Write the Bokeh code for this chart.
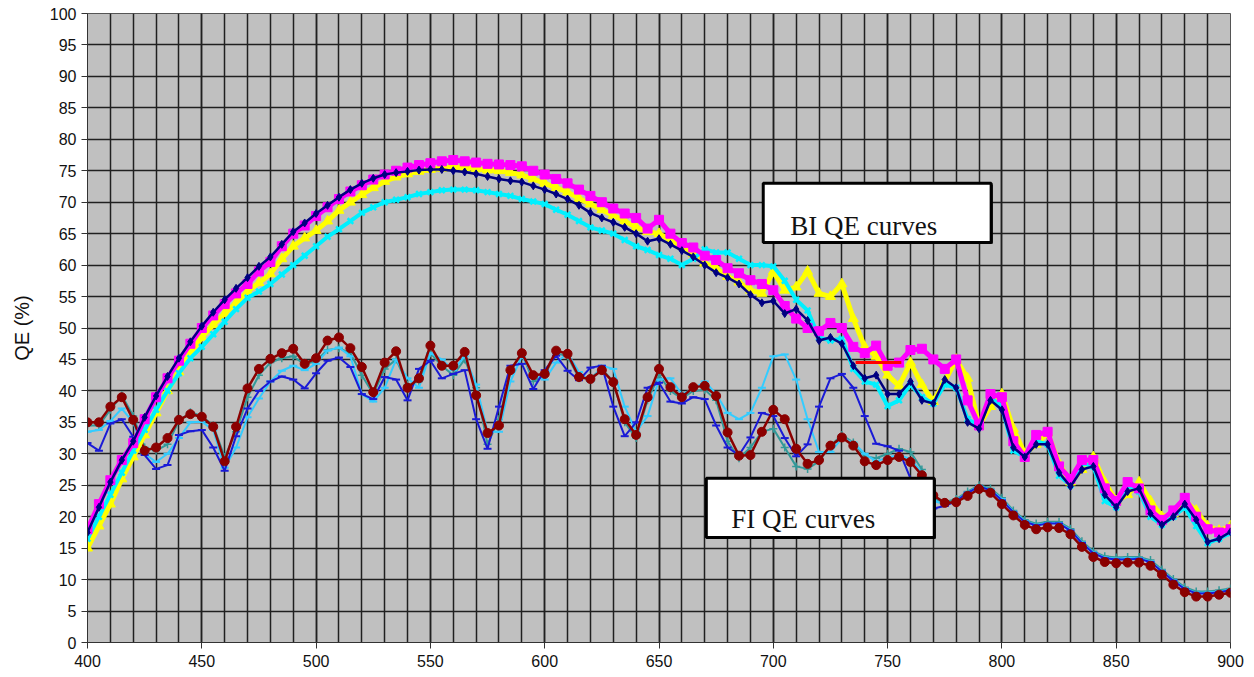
from bokeh.plotting import figure
from bokeh.models import ColumnDataSource, SingleIntervalTicker, BoxAnnotation, Label
from bokeh.embed import file_html
from bokeh.resources import INLINE

wavelength = list(range(400, 901, 5))

bi_magenta = [18, 22, 25.8, 29, 31.7, 35.5, 39, 42, 44.8, 47.5,
              50, 52, 53.8, 55.5, 57, 59, 60.5, 63, 65, 66.3,
              67.8, 69.2, 70.5, 71.7, 72.7, 73.6, 74.4, 75, 75.5, 75.9,
              76.2, 76.5, 76.7, 76.5, 76.3, 76.1, 76, 75.9, 75.7, 75,
              74.4, 73.7, 73, 72, 71, 70, 69, 68.2, 67.5, 65.8,
              67.2, 65, 63.5, 62.8, 61.5, 60.8, 59.5, 58.7, 57.6, 57,
              56, 53.5, 51.5, 50, 49.5, 50.8, 50, 47, 46, 47.2,
              44, 44.5, 46.5, 46.7, 45, 43.5, 45, 38.5, 34.5, 39.5,
              39, 32, 29.5, 33, 33.5, 28, 26, 29, 29, 24.5,
              22.5, 25.5, 24.5, 21, 19.5, 21, 23, 20, 18, 17.5,
              18]

bi_yellow = [15, 18.5, 22, 26, 29.5, 33, 36.5, 40, 43, 46,
             48.5, 50.5, 52.3, 54, 55.8, 57.2, 58.6, 61, 63, 64.3,
             65.5, 67, 68.7, 70, 71.2, 72.3, 73.3, 74, 74.5, 74.9,
             75.2, 75.4, 75.6, 75.5, 75.3, 75.1, 75, 74.7, 74.3, 73.7,
             73, 72.3, 71.6, 70.6, 69.7, 68.8, 67.9, 67, 66, 65.3,
             65, 64, 63, 61.8, 60.3, 59.5, 58.2, 57.3, 56, 55.5,
             59, 56, 56.5, 59, 55.5, 55, 57, 51.5, 47, 45.5,
             42.5, 40.8, 44.5, 41, 38.3, 41.5, 45, 42, 34.5, 37.5,
             39.5, 34, 30, 31.5, 33.3, 28.5, 25.5, 27.5, 29.5, 25.5,
             22.5, 23.5, 25.5, 22.5, 20, 20.5, 22.5, 21, 18.5, 17.8,
             18.5]

bi_navy = [17.5, 21.5, 25.5, 29, 32, 35.8, 39.2, 42.3, 45.2, 47.8,
           50.3, 52.5, 54.5, 56.3, 58, 59.8, 61.3, 63.3, 65.3, 66.7,
           68.2, 69.5, 70.8, 72, 73, 73.8, 74.4, 74.7, 74.9, 75.1,
           75.2, 75.2, 75, 74.8, 74.5, 74.1, 73.7, 73.4, 73.2, 72.6,
           72, 71.3, 70.5, 69.5, 68.3, 67.5, 66.8, 66, 65, 63.8,
           64.2, 63.3, 62.3, 61.3, 60, 58.8, 58, 57, 55.3, 54,
           54.3, 52.3, 53, 51.2, 48, 48.5, 47.5, 44, 42, 42.5,
           39.5, 39.5, 41.5, 38.5, 38, 41.8, 40.5, 35, 34, 38.5,
           37, 31, 29.5, 31.5, 31.5, 27, 24.8, 27.5, 28, 23.5,
           21.5, 24, 24.5, 20.5, 18.7, 20, 22, 19.5, 16, 16.5,
           17.6]

bi_cyan = [16.5, 20, 23.5, 27, 30.5, 33.8, 37, 40, 42.8, 45.2,
           47, 49, 51, 53, 54.8, 55.8, 57, 58.5, 60, 61.5,
           63, 64.5, 65.7, 67, 68.3, 69.2, 70, 70.4, 70.8, 71.3,
           71.6, 71.9, 72, 72, 71.9, 71.6, 71.3, 71, 70.5, 70.1,
           69.7, 68.8, 68, 67, 66, 65.5, 65, 64, 63, 62.4,
           61.6, 61, 60, 61, 62.5, 62, 62, 61, 60, 60,
           59.8, 57.5, 54.5, 52.8, 48.5, 48, 48.3, 43.5, 41.5, 41,
           37.6, 38.5, 41, 39, 38, 41, 40.5, 35.5, 34.5, 39,
           37.5, 30.5, 29.5, 32, 31.5, 26.5, 25, 28.5, 28, 22.5,
           21.5, 25, 24, 20, 18.7, 20, 21.5, 18.5, 15.8, 16.5,
           17.4]

fi_maroon = [35, 35, 37.5, 39, 35.4, 30.5, 31, 32.5, 35.4, 36.3,
             35.9, 34.3, 28.8, 34.3, 40.4, 43.5, 45.1, 46, 46.7, 44.3,
             45.2, 48, 48.5, 46.8, 43.8, 39.8, 44.5, 46.3, 40.5, 42,
             47.2, 44, 44, 46.2, 39.3, 33.3, 34.5, 43.3, 46, 42.5,
             42.7, 46.4, 45.9, 42.2, 41.9, 43.3, 41.4, 35.5, 33, 39,
             43.5, 40.6, 39, 40.6, 40.8, 39.2, 33.4, 29.7, 29.8, 33.5,
             37, 35.5, 30.8, 28.4, 29, 31.3, 32.6, 31.3, 28.8, 28.2,
             29, 29.5, 28.7, 26.6, 23.4, 22.2, 22.3, 23.3, 24.4, 23.8,
             22, 20.2, 18.7, 18, 18.3, 18.2, 17.2, 15.2, 13.6, 12.8,
             12.6, 12.7, 12.7, 12.2, 10.8, 9.2, 8, 7.3, 7.3, 7.6,
             7.9]

fi_blue = [31.7, 30.5, 34.8, 35.5, 32.7, 29.8, 27.6, 28.2, 33, 33.6,
           33.8, 31, 27.3, 32.8, 37.2, 40, 41.5, 42.3, 41.8, 40.4,
           42.8, 44.8, 45.3, 43.8, 39.5, 38.7, 42.2, 41.8, 38.5, 43.5,
           44.8, 42, 42.7, 43.3, 35.5, 30.8, 37.5, 44, 44.3, 40.3,
           43.3, 45.6, 43.2, 41.7, 43.7, 44, 37.5, 32.8, 35, 40.5,
           41.3, 38.3, 38, 39, 38.7, 34.5, 31, 29.8, 32.6, 36.5,
           36, 32.5, 29.6, 31.5, 37.5, 42, 42.7, 40.5, 36, 31.6,
           31.2, 30.5, 26.1, 21.8, 21.3, 21.7, 22.5, 23.8, 24.8, 24.2,
           22.6, 20.7, 19.2, 18.6, 18.9, 18.9, 17.8, 15.8, 14.2, 13.4,
           13.2, 13.2, 13.3, 12.8, 11.3, 9.8, 8.5, 7.8, 7.8, 8,
           8.3]

fi_lightblue = [33.5, 33.8, 35.2, 37.2, 35, 30, 28.7, 30, 32.5, 35,
                35.1, 33.8, 27.8, 31, 35.8, 38.8, 41.5, 43.2, 44, 43.3,
                44.3, 46.4, 46.9, 45.5, 39.5, 38.3, 40.5, 45, 42, 40.5,
                46, 45, 43.3, 45.5, 41, 33.5, 33.5, 41.5, 45.5, 42.5,
                41.8, 44.5, 46, 43, 41.5, 44, 43.5, 37.5, 33.5, 36,
                41.8, 42, 39.5, 40.3, 41.5, 39.5, 36.5, 35.5, 36.5, 40.5,
                45.5, 45.8, 41.8, 35.5, 30.3, 30.3, 32.4, 31.8, 30, 28.8,
                29.4, 29.8, 29.2, 27, 22.5, 22, 22.6, 23.8, 24.9, 24.3,
                22.8, 20.8, 19.3, 18.7, 19, 19, 17.9, 15.9, 14.3, 13.5,
                13.3, 13.4, 13.4, 12.9, 11.4, 9.9, 8.6, 7.9, 7.9, 8.1,
                8.4]

fi_teal = [34.5, 34.5, 37, 39.3, 36, 31, 30.5, 31.5, 35.2, 36.6,
           36, 34.5, 29.5, 33.5, 39, 42.5, 44.5, 45.2, 45.5, 44.2,
           44.8, 46.5, 46.8, 46, 42.5, 39.5, 43.5, 45, 41, 41.5,
           46, 44, 42.5, 45, 40.5, 31.5, 35.5, 43, 46, 41.5,
           42.5, 46, 45.5, 42, 42, 43.5, 41.5, 35, 32.5, 38.5,
           42.5, 40, 38.8, 40, 40.2, 38.5, 32, 29.3, 31, 33.5,
           34, 31, 28, 27.6, 28.8, 31.3, 33, 31.8, 29.6, 29.3,
           30, 30.8, 30.3, 27.5, 22.8, 22.3, 22.8, 24, 25, 24.5,
           23, 21, 19.5, 18.9, 19.2, 19.2, 18.1, 16.1, 14.5, 13.7,
           13.5, 13.6, 13.6, 13.1, 11.6, 10.1, 8.8, 8.1, 8.1, 8.3,
           8.6]

red_wl = [736, 756]
red_qe = [44.5, 44.5]

y_ticks_step = 5
x_ticks_step = 50

src = ColumnDataSource(dict(wl=wavelength, magenta=bi_magenta, yellow=bi_yellow,
                            navy=bi_navy, cyan=bi_cyan, maroon=fi_maroon,
                            blue=fi_blue, lblue=fi_lightblue, teal=fi_teal))

p = figure(width=1254, height=677, x_range=(400, 900), y_range=(0, 100),
           output_backend="svg", toolbar_location=None,
           min_border_left=87, min_border_right=24, min_border_top=13,
           min_border_bottom=35, background_fill_color="#c0c0c0",
           border_fill_color="white", outline_line_color="#555555")

# axes / grid
p.xaxis.ticker = SingleIntervalTicker(interval=x_ticks_step, num_minor_ticks=5)
p.yaxis.ticker = SingleIntervalTicker(interval=y_ticks_step, num_minor_ticks=0)
p.xaxis.minor_tick_line_color = None
p.yaxis.minor_tick_line_color = None
for ax in (p.xaxis[0], p.yaxis[0]):
    ax.axis_line_color = "#333333"
    ax.major_tick_line_color = "#333333"
    ax.major_tick_out = 6
    ax.major_tick_in = 0
    ax.major_label_text_font = "Liberation Sans"
    ax.major_label_text_font_size = "16px"
    ax.major_label_text_color = "#111111"
p.xaxis.major_label_standoff = 6
p.yaxis.major_label_standoff = 5
p.yaxis.axis_label = "QE (%)"
p.yaxis.axis_label_text_font = "Liberation Sans"
p.yaxis.axis_label_text_font_size = "20px"
p.yaxis.axis_label_text_font_style = "normal"
p.yaxis.axis_label_text_color = "#111111"
p.yaxis.axis_label_standoff = 14

p.xgrid.grid_line_color = "#202020"
p.xgrid.grid_line_width = 1.5
p.xgrid.minor_grid_line_color = "#202020"
p.xgrid.minor_grid_line_width = 1.5
p.ygrid.grid_line_color = "#202020"
p.ygrid.grid_line_width = 1.5

# FI curves
p.line("wl", "teal", source=src, color="#339999", line_width=2)
p.scatter("wl", "teal", source=src, marker="cross", size=8, line_color="#339999", line_width=1.5)
p.line("wl", "lblue", source=src, color="#33ccff", line_width=2)
p.scatter("wl", "lblue", source=src, marker="dash", size=8, line_color="#33ccff", line_width=2)
p.line("wl", "blue", source=src, color="#1a1ad6", line_width=2)
p.scatter("wl", "blue", source=src, marker="dash", size=8, line_color="#1a1ad6", line_width=2)
p.line("wl", "maroon", source=src, color="#8b0000", line_width=2.5)
p.scatter("wl", "maroon", source=src, marker="circle", size=9, color="#8b0000")

# BI curves
p.line("wl", "yellow", source=src, color="#ffff00", line_width=5)
p.scatter("wl", "yellow", source=src, marker="triangle", size=10, color="#ffff00")
p.line("wl", "cyan", source=src, color="#00f0ff", line_width=4)
p.scatter("wl", "cyan", source=src, marker="x", size=8, line_color="#00f0ff", line_width=2.5)
p.line("wl", "magenta", source=src, color="#ff00ff", line_width=5)
p.scatter("wl", "magenta", source=src, marker="square", size=9, color="#ff00ff")
p.line("wl", "navy", source=src, color="#000080", line_width=2.5)
p.scatter("wl", "navy", source=src, marker="diamond", size=8, color="#000080")

p.line(red_wl, red_qe, color="#ff0000", line_width=3)

# text boxes (with a slight dark drop-edge at the bottom/right)
p.add_layout(BoxAnnotation(left=696.2, right=796.0, bottom=63.4, top=72.8,
                           fill_color="black", fill_alpha=1.0, line_alpha=0.0))
p.add_layout(BoxAnnotation(left=695.6, right=795.3, bottom=63.6, top=73.0,
                           fill_color="white", fill_alpha=1.0,
                           line_color="black", line_width=3, line_alpha=1.0))
p.add_layout(Label(x=707.4, y=66.2, text="BI QE curves", text_font="Liberation Serif",
                   text_font_size="27px", text_color="#111111", text_baseline="alphabetic"))
p.add_layout(BoxAnnotation(left=671.3, right=771.1, bottom=16.5, top=25.9,
                           fill_color="black", fill_alpha=1.0, line_alpha=0.0))
p.add_layout(BoxAnnotation(left=670.7, right=770.4, bottom=16.7, top=26.1,
                           fill_color="white", fill_alpha=1.0,
                           line_color="black", line_width=3, line_alpha=1.0))
p.add_layout(Label(x=681.6, y=19.7, text="FI QE curves", text_font="Liberation Serif",
                   text_font_size="27px", text_color="#111111", text_baseline="alphabetic"))

open("out.html", "w").write(file_html(p, INLINE))
